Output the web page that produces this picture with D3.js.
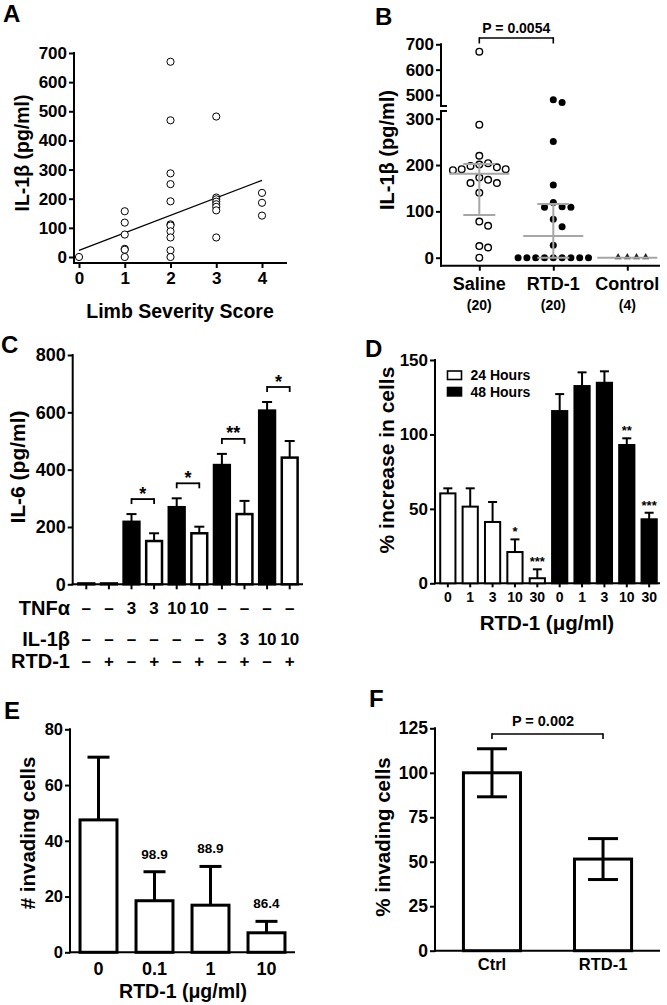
<!DOCTYPE html>
<html>
<head>
<meta charset="utf-8">
<script src="https://cdn.jsdelivr.net/npm/d3@7"></script>
<style>
  body { margin: 0; background: #fff; }
  svg { display: block; }
</style>
</head>
<body>
<div id="chart"></div>
<script>
// ---- data ----
// A: IL-1b vs limb severity score
const scoreA = [0, 1, 1, 1, 1, 1, 1, 2, 2, 2, 2, 2, 2, 2, 2, 2, 2, 2, 3, 3, 3, 3, 3, 3, 3, 3, 4, 4, 4];
const il1bA = [0, 157, 118, 77, 28, 25, 0, 670, 469, 287, 250, 191, 112, 108, 88, 67, 23, 0,
  482, 204, 198, 190, 181, 172, 160, 67, 220, 186, 142];
const fitA = [[0, 23], [4, 263]];
const yTicksA = [0, 100, 200, 300, 400, 500, 600, 700];
const xTicksA = [0, 1, 2, 3, 4];

// B: IL-1b by treatment
const groupsB = ["Saline", "RTD-1", "Control"];
const countsB = ["(20)", "(20)", "(4)"];
const salineB = [671, 287, 220, 204, 201, 198, 195, 191, 191, 189, 173, 168, 161, 161, 140, 78, 69, 25, 22, 0];
const rtdB = [481, 470, 251, 157, 119, 110, 109, 109, 83, 67, 27, 0, 0, 0, 0, 0, 0, 0, 0, 0];
const controlB = [0, 0, 0, 0];
const medianB = [181, 47, 0];
const q1B = [92, 0, 0];
const q3B = [202, 116, 0];
const lowTicksB = [0, 100, 200, 300];
const highTicksB = [500, 600, 700];
const pTextB = "P = 0.0054";

// C: IL-6 release
const tnfC = ["–", "–", "3", "3", "10", "10", "–", "–", "–", "–"];
const il1bC = ["–", "–", "–", "–", "–", "–", "3", "3", "10", "10"];
const rtdC = ["–", "+", "–", "+", "–", "+", "–", "+", "–", "+"];
const meanC = [3, 3, 218, 151, 269, 178, 416, 245, 606, 442];
const semC = [0, 0, 27, 27, 31, 23, 39, 46, 30, 58];
const sigC = [[2, 3, "*"], [4, 5, "*"], [6, 7, "**"], [8, 9, "*"]];
const yTicksC = [0, 200, 400, 600, 800];

// D: % increase in cells
const doseD = ["0", "1", "3", "10", "30"];
const mean24 = [60.4, 51.5, 41.2, 21, 3.4];
const sem24 = [3.4, 12.3, 13.4, 8.5, 6];
const sig24 = ["", "", "", "*", "***"];
const mean48 = [115.7, 132.5, 134.7, 92.9, 43];
const sem48 = [11.4, 9.2, 7.7, 4.5, 4.4];
const sig48 = ["", "", "", "**", "***"];
const yTicksD = [0, 50, 100, 150];

// E: invading cells
const doseE = ["0", "0.1", "1", "10"];
const meanE = [47.5, 18.5, 16.9, 7];
const semE = [22.5, 10.4, 13.9, 4.1];
const pctE = ["", "98.9", "88.9", "86.4"];
const yTicksE = [0, 20, 40, 60, 80];

// F: % invading cells
const groupsF = ["Ctrl", "RTD-1"];
const meanF = [100, 51.5];
const semF = [13.5, 11.5];
const pTextF = "P = 0.002";
const yTicksF = [0, 25, 50, 75, 100, 125];

// ---- setup ----
const FONT = "'Liberation Sans', Arial, Helvetica, sans-serif";
const svg = d3.select("#chart").append("svg")
  .attr("width", 667).attr("height", 1005)
  .style("font-family", FONT).style("font-weight", "bold");

svg.append("rect").attr("width", 667).attr("height", 1005).attr("fill", "#fff");

function text(x, y, str, size, anchor) {
  return svg.append("text").attr("x", x).attr("y", y)
    .attr("font-size", size).attr("text-anchor", anchor || "middle")
    .attr("fill", "#000").text(str);
}

function vtitle(x, y, str, size) {
  svg.append("text").attr("transform", `translate(${x},${y}) rotate(-90)`)
    .attr("dy", "0.35em").attr("font-size", size).attr("text-anchor", "middle")
    .attr("fill", "#000").text(str);
}

function line(x1, y1, x2, y2, w, color) {
  return svg.append("line").attr("x1", x1).attr("y1", y1).attr("x2", x2).attr("y2", y2)
    .attr("stroke", color || "#000").attr("stroke-width", w || 2);
}

function styleAxis(g, size) {
  g.select(".domain").remove();
  g.selectAll(".tick line").attr("stroke", "#000").attr("stroke-width", 2);
  g.selectAll(".tick text").attr("font-size", size).attr("font-family", FONT)
    .attr("font-weight", "bold").attr("fill", "#000");
}

function leftAxis(scale, ticks, x, yTop, yBot, size) {
  const g = svg.append("g").attr("transform", `translate(${x},0)`)
    .call(d3.axisLeft(scale).tickValues(ticks).tickSize(5).tickPadding(2));
  styleAxis(g, size);
  line(x, yTop - 1, x, yBot);
  return g;
}

function bottomAxis(scale, y, x0, x1, size, tickSize, pad, fmt, ticks) {
  const ax = d3.axisBottom(scale).tickSize(tickSize).tickPadding(pad);
  if (fmt !== undefined) ax.tickFormat(fmt);
  if (ticks) ax.tickValues(ticks);
  const g = svg.append("g").attr("transform", `translate(0,${y})`).call(ax);
  styleAxis(g, size);
  line(x0 - 1, y, x1, y);
  return g;
}

function errUp(x, yTop, yErr, half, w) {
  line(x, yTop, x, yErr, w);
  line(x - half, yErr, x + half, yErr, w);
}

// ---- Panel A ----
text(3, 22, "A", 24, "start");
const xA = d3.scaleLinear().domain([0, 4]).range([79, 262]);
const yA = d3.scaleLinear().domain([0, 700]).range([257, 53]);
leftAxis(yA, yTicksA, 74, yA(700), 264, 17);
bottomAxis(xA, 263, 74, 287, 17, 5, 4, d3.format("d"), xTicksA);
svg.append("path")
  .attr("d", d3.line().x(d => xA(d[0])).y(d => yA(d[1]))(fitA))
  .attr("stroke", "#000").attr("stroke-width", 1.3).attr("fill", "none");
svg.append("g").selectAll("circle").data(il1bA).join("circle")
  .attr("cx", (d, i) => xA(scoreA[i])).attr("cy", d => yA(d)).attr("r", 3.6)
  .attr("fill", "#fff").attr("stroke", "#000").attr("stroke-width", 1);
vtitle(22, 153, "IL-1β (pg/ml)", 19.5);
text(180, 318, "Limb Severity Score", 19.5);

// ---- Panel B ----
text(375, 25, "B", 24, "start");
const xB = d3.scalePoint().domain(groupsB).range([479.3, 627.3]);
const yLoB = d3.scaleLinear().domain([0, 300]).range([257.7, 118.7]);
const yHiB = d3.scaleLinear().domain([500, 700]).range([95, 44.3]);
const yB = v => v >= 400 ? yHiB(v) : yLoB(v);
{
  const gLo = svg.append("g").attr("transform", "translate(441,0)")
    .call(d3.axisLeft(yLoB).tickValues(lowTicksB).tickSize(5).tickPadding(2));
  styleAxis(gLo, 17);
  const gHi = svg.append("g").attr("transform", "translate(441,0)")
    .call(d3.axisLeft(yHiB).tickValues(highTicksB).tickSize(5).tickPadding(2));
  styleAxis(gHi, 17);
  line(441, yHiB(700) - 1, 441, 106);
  line(440, 106, 447, 106);
  line(441, 111, 441, 266.7);
  line(440, 111, 447, 111);
}
bottomAxis(xB, 265.7, 441, 660, 17, 5, 4, "");
groupsB.forEach((g, i) => {
  text(xB(g), 289.5, g, 18);
  text(xB(g), 310, countsB[i], 14);
});

function swarm(vals, cx, step, minD) {
  const placed = [];
  vals.map(v => ({ v, y: yB(v) })).sort((a, b) => a.y - b.y).forEach(p => {
    for (let k = 0; k < 60; k++) {
      const off = k === 0 ? 0 : (k % 2 ? Math.ceil(k / 2) : -k / 2);
      const x = cx + off * step;
      if (placed.every(q => (q.x - x) ** 2 + (q.y - p.y) ** 2 >= minD * minD)) {
        placed.push({ x, y: p.y, v: p.v });
        break;
      }
    }
  });
  return placed;
}
const ptsSal = swarm(salineB, xB("Saline"), 8.8, 8);
const ptsRtd = swarm(rtdB, xB("RTD-1"), 8.8, 8);
const ptsCtl = swarm(controlB, xB("Control"), 9.2, 8);
svg.append("g").selectAll("circle").data(ptsSal).join("circle")
  .attr("cx", d => d.x).attr("cy", d => d.y).attr("r", 3.3)
  .attr("fill", "#fff").attr("stroke", "#000").attr("stroke-width", 1.4);
svg.append("g").selectAll("circle").data(ptsRtd).join("circle")
  .attr("cx", d => d.x).attr("cy", d => d.y).attr("r", 3.5).attr("fill", "#000");
svg.append("g").selectAll("path").data(ptsCtl).join("path")
  .attr("transform", d => `translate(${d.x},${d.y - 0.5})`)
  .attr("d", d3.symbol(d3.symbolTriangle, 22)).attr("fill", "#222");
groupsB.forEach((g, i) => {
  const cx = xB(g);
  const gray = "#a6a6a6";
  line(cx - 30, yB(medianB[i]), cx + 30, yB(medianB[i]), 2, gray);
  if (q3B[i] > q1B[i]) {
    line(cx, yB(q3B[i]), cx, yB(q1B[i]), 2, gray);
    line(cx - 16, yB(q3B[i]), cx + 16, yB(q3B[i]), 2, gray);
    line(cx - 16, yB(q1B[i]), cx + 16, yB(q1B[i]), 2, gray);
  }
});
line(xB("Saline"), 38, xB("RTD-1"), 38, 1.6);
line(xB("Saline"), 37.2, xB("Saline"), 43.5, 1.6);
line(xB("RTD-1"), 37.2, xB("RTD-1"), 43.5, 1.6);
text((xB("Saline") + xB("RTD-1")) / 2, 33, pTextB, 14);
vtitle(387, 150, "IL-1β (pg/ml)", 20);

// ---- Panel C ----
text(1, 353, "C", 24, "start");
const xC = d3.scaleBand().domain(d3.range(meanC.length)).range([75, 301]).paddingInner(0.3).paddingOuter(0.15);
const yC = d3.scaleLinear().domain([0, 800]).range([584.3, 355]);
leftAxis(yC, yTicksC, 72.7, yC(800), 585.3, 18);
bottomAxis(xC, 584.3, 72.7, 303, 10, 5, 2, "");
const cC = i => xC(i) + xC.bandwidth() / 2;
meanC.forEach((v, i) => {
  if (semC[i] > 0) errUp(cC(i), yC(v), yC(v + semC[i]), 5, 2);
});
svg.append("g").selectAll("rect").data(meanC).join("rect")
  .attr("x", (d, i) => xC(i)).attr("width", xC.bandwidth())
  .attr("y", d => yC(d)).attr("height", d => yC(0) - yC(d))
  .attr("fill", (d, i) => rtdC[i] === "+" ? "#fff" : "#000")
  .attr("stroke", "#000").attr("stroke-width", 2.5);
sigC.forEach(([a, b, s]) => {
  const top = Math.min(yC(meanC[a] + semC[a]), yC(meanC[b] + semC[b])) - 15;
  line(cC(a), top, cC(b), top, 1.8);
  line(cC(a), top - 0.9, cC(a), top + 5, 1.8);
  line(cC(b), top - 0.9, cC(b), top + 5, 1.8);
  text((cC(a) + cC(b)) / 2, top + 0.5, s, 18);
});
text(70, 614.5, "TNFα", 20, "end");
text(70, 645.5, "IL-1β", 20, "end");
text(70, 668, "RTD-1", 20, "end");
[[tnfC, 613.5], [il1bC, 644.5], [rtdC, 667]].forEach(([row, y]) => {
  row.forEach((s, i) => text(cC(i), y, s, 17));
});
vtitle(18, 467, "IL-6 (pg/ml)", 21);

// ---- Panel D ----
text(365, 357, "D", 24, "start");
const catsD = doseD.map(d => "24-" + d).concat(doseD.map(d => "48-" + d));
const xD = d3.scaleBand().domain(catsD).range([438, 659]).paddingInner(0.32).paddingOuter(0.1);
const yD = d3.scaleLinear().domain([0, 150]).range([583.3, 360]);
leftAxis(yD, yTicksD, 435, yD(150), 584.3, 17);
bottomAxis(xD, 583.3, 435, 660, 14, 4, 4.5, d => d.split("-")[1]);
const barsD = mean24.map((v, i) => ({ k: catsD[i], v, e: sem24[i], s: sig24[i], fill: "#fff" }))
  .concat(mean48.map((v, i) => ({ k: catsD[i + 5], v, e: sem48[i], s: sig48[i], fill: "#000" })));
const cD = k => xD(k) + xD.bandwidth() / 2;
barsD.forEach(d => errUp(cD(d.k), yD(d.v), yD(d.v + d.e), 4.5, 2));
svg.append("g").selectAll("rect").data(barsD).join("rect")
  .attr("x", d => xD(d.k)).attr("width", xD.bandwidth())
  .attr("y", d => yD(d.v)).attr("height", d => yD(0) - yD(d.v))
  .attr("fill", d => d.fill).attr("stroke", "#000").attr("stroke-width", 2);
barsD.filter(d => d.s).forEach(d => text(cD(d.k), yD(d.v + d.e) - 3, d.s, 13));
svg.append("rect").attr("x", 447.5).attr("y", 371).attr("width", 14).attr("height", 8.5)
  .attr("fill", "#fff").attr("stroke", "#000").attr("stroke-width", 1.6);
svg.append("rect").attr("x", 446.7).attr("y", 386.7).attr("width", 15.6).attr("height", 10).attr("fill", "#000");
text(470.5, 380, "24 Hours", 14, "start");
text(470.5, 396.5, "48 Hours", 14, "start");
text(547, 630, "RTD-1 (μg/ml)", 20.5);
vtitle(387, 460, "% increase in cells", 21);

// ---- Panel E ----
text(4, 719, "E", 24, "start");
const xE = d3.scaleBand().domain(doseE).range([70, 295]).paddingInner(0.34).paddingOuter(0.179);
const yE = d3.scaleLinear().domain([0, 80]).range([952.3, 729.3]);
leftAxis(yE, yTicksE, 70, yE(80), 953.3, 16.5);
bottomAxis(xE, 952.3, 70, 295, 18, 0, 9.5);
const cE = k => xE(k) + xE.bandwidth() / 2;
meanE.forEach((v, i) => errUp(cE(doseE[i]), yE(v), yE(v + semE[i]), 11, 3));
svg.append("g").selectAll("rect").data(meanE).join("rect")
  .attr("x", (d, i) => xE(doseE[i])).attr("width", xE.bandwidth())
  .attr("y", d => yE(d)).attr("height", d => yE(0) - yE(d))
  .attr("fill", "#fff").attr("stroke", "#000").attr("stroke-width", 3);
pctE.forEach((s, i) => { if (s) text(cE(doseE[i]), yE(meanE[i] + semE[i]) - 13, s, 13.5); });
text(183, 998, "RTD-1 (μg/ml)", 19.5);
vtitle(28, 833, "# invading cells", 20.5);

// ---- Panel F ----
text(369, 707, "F", 24, "start");
const xF = d3.scaleBand().domain(groupsF).range([435, 660]).paddingInner(0.486).paddingOuter(0.256);
const yF = d3.scaleLinear().domain([0, 125]).range([950.7, 728.3]);
leftAxis(yF, yTicksF, 435, yF(125), 951.7, 17.5);
bottomAxis(xF, 950.7, 435, 660, 16.5, 0, 8);
const cF = k => xF(k) + xF.bandwidth() / 2;
svg.append("g").selectAll("rect").data(meanF).join("rect")
  .attr("x", (d, i) => xF(groupsF[i])).attr("width", xF.bandwidth())
  .attr("y", d => yF(d)).attr("height", d => yF(0) - yF(d))
  .attr("fill", "#fff").attr("stroke", "#000").attr("stroke-width", 3);
meanF.forEach((v, i) => {
  const cx = cF(groupsF[i]);
  line(cx, yF(v + semF[i]), cx, yF(v - semF[i]), 3);
  line(cx - 15, yF(v + semF[i]), cx + 15, yF(v + semF[i]), 3);
  line(cx - 15, yF(v - semF[i]), cx + 15, yF(v - semF[i]), 3);
});
line(cF("Ctrl"), 734, cF("RTD-1"), 734, 1.6);
line(cF("Ctrl"), 733.2, cF("Ctrl"), 739, 1.6);
line(cF("RTD-1"), 733.2, cF("RTD-1"), 739, 1.6);
text(543, 726, pTextF, 14.5);
vtitle(383, 837, "% invading cells", 20.5);
</script>
</body>
</html>
